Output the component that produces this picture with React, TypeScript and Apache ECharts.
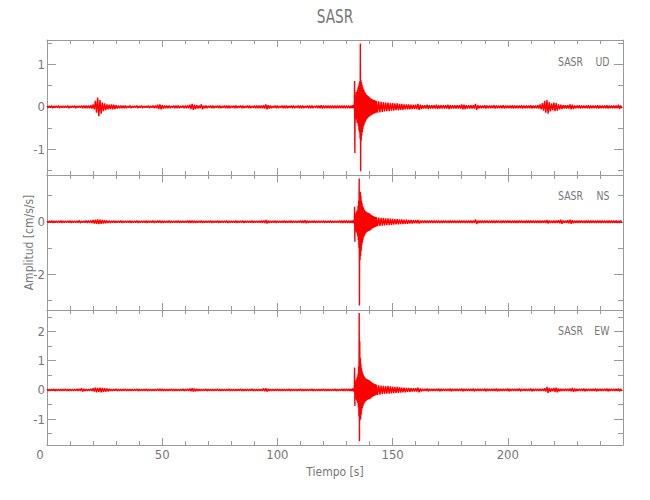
import React, { useEffect, useRef } from 'react';
import * as echarts from 'echarts';

// ---- data (amplitudes in units of 0.01 cm/s/s) ----
const stationName = 'SASR';
const componentNames = ['UD', 'NS', 'EW'];
const xTickLabels = [0, 50, 100, 150, 200];

// per-second envelope, seconds 0..131
const udPre = [2,2,3,2,2,3,2,2,2,3,2,2,3,2,2, 3,3,3,3, 4,6,14,22,16,10,8,6,5,6,5,4,3,3,3,3, 2,3,2,2,3,2,3,2,2,3,2,3,3, 5,6,4, 3,3,3,2,3,3,3,2,3,3,3, 5,7,5,4,3,6,3, 3,2,3,3,2,3,3,2,3,3,3,2,3,3,2,3,3,2,3,3,2,3,3,3,3, 4,6,4, 3,2,3,3,2,3,3,3,2,3,3,2,3,3,3,2,3,3,3,2,3, 3,4, 3,3,3,3,3,3,3,3,3,3,3,3];
const nsPre = [3,3,4,3,3,3,4,3,3,3,4,3,3,3, 5,3,3,4,4, 5,7,8,9,8,7,6,5,4, 3,4,3,3,4,3,3,3,4,3,3,4,3,3,3,4,3,3,4,3, 4,5,4, 3,3,4,3,3,3,4,3,3,3,4, 4,5,4, 3,3,4,3,3,3,4,3,3,4,3,3,3,4,3,3,3,4,3,3,4,3,3,3,4,3,3,3,4, 5,7,4, 3,3,4,3,3,3,4,3,3,4,3,3,3,4, 4,6,4, 3,3,4,3,3,3,4,3,3,4,3,3,3,4,4,4,4,4];
const ewPre = [3,3,3,4,3,3,3,3,4,3,3,3,3,4, 4,6,4, 3,3,4, 6,8,7,8,7,6,5,4, 3,3,4,3,3,3,4,3,3,3,3,4,3,3,3,4,3,3,3,3, 4,4,4, 3,3,3,4,3,3,3,3,4,3, 4,5,6,5,4, 3,3,3,4,3,3,3,3,4,3,3,3,3,4,3,3,3,3,4,3,3,3,3,4,3,3,3,3, 5,6,4, 3,3,3,4,3,3,3,3,4,3,3,3,3,4,3,3,3,3,4,3,3,3,3,4,3,3,3,3,4,3,3,4,4,4,4];

// main event, 0.25 s bins from 132.0 s
const eventStart = 132;
const eventStep = 0.25;
const udEvHi = [3,3,3,4,4,5,61,25,28,35,30,40,45,50,55,60,150,63,58,52,47,43,40,36,34,32,30,28,27,26,25,23,22,21,20,19,18,18,17,16,16,15,15,14];
const udEvLo = [-3,-3,-3,-3,-4,-4,-109,-22,-30,-28,-38,-35,-45,-55,-60,-75,-152,-80,-68,-60,-52,-46,-42,-38,-35,-32,-30,-28,-26,-25,-24,-22,-22,-20,-20,-19,-18,-17,-16,-16,-15,-15,-14,-14];
const nsEvHi = [4,4,4,5,5,6,57,25,30,35,40,45,60,80,165,100,114,100,80,70,60,55,50,45,42,40,38,36,35,34,33,32,31,29,27,26,24,23,22,21,20,19,18,18];
const nsEvLo = [-4,-4,-4,-4,-5,-6,-76,-30,-35,-40,-45,-55,-70,-100,-319,-146,-130,-110,-90,-80,-70,-60,-55,-50,-46,-43,-40,-38,-37,-36,-35,-34,-33,-31,-29,-27,-26,-24,-23,-22,-21,-20,-19,-18];
const ewEvHi = [4,4,4,5,5,6,77,30,30,35,40,45,55,80,264,167,110,90,75,65,58,52,48,45,42,40,38,37,36,35,34,33,32,30,28,27,25,24,23,22,21,20,19,18];
const ewEvLo = [-4,-4,-4,-4,-5,-6,-55,-25,-30,-35,-40,-45,-60,-90,-176,-103,-100,-85,-70,-62,-55,-50,-46,-43,-40,-38,-36,-35,-34,-33,-32,-32,-31,-29,-27,-26,-24,-23,-22,-21,-20,-19,-18,-17];

// per-second envelope, seconds 143..249
const postStart = 143;
const udPost = [14,13,12,11,10,10,9,9,8,8,7,7,6,6,6,5,5,5,7,5, 4,4,5,4,4,4,5,4,4,4,4,5,4,4,4,4,4, 6,5,4,4,4,4,7,4, 3,3,4,3,3,3,4,3,3,3,4,3,3,3,4,3,3,3,4,3,3,3,4,3,3, 4,6,9,14,16,11,8,10,9,6,5,4,4,4,6,5, 3,3,4,3,3,3,4,3,3,3,4,3,3,3,4,3,3,3,3,5,3];
const nsPost = [17,16,15,14,13,13,12,11,10,10,9,9,8,8,7,7,6,6,7,5, 5,5,5,5,5,5,5,5, 4,4,5,4,4,4,5,4,4,4,5,4,4,4,4, 9,4, 4,4,4,5,4,4,4,4,5,4,4,4,4,5,4,4,4,4,5,4,4,4,4,5,4,4,4,4, 5,7,5,4,4,4,6,8,5,4,6,8,6, 4,4,4,5,4,4,4,4,5,4,4,4,4,5,4,4,4,4,5,4,4];
const ewPost = [17,16,15,14,13,13,12,11,10,10,9,8,8,7,7,6,6,6,8,5, 4,4,5,4,4,4,4,5,4,4,4,4,5,4,4,4,4,5,4,4,4,4,5,4,4,4,4,5,4,4,4,4,5,4,4,4,4,5,4,4,4,4,5,4,4,4,4,5,4,4,4,4,4, 6,10,7,5,7,8,5,4,4,4,4,5,7, 5,4,4,4,5,4,4,4,4,5,4,4,4,4,5,4,4,4,4,5,4];

// axis extents and ticks per panel
const yMins = [-1.61, -3.36, -1.89];
const yMaxs = [1.58, 1.78, 2.74];
const yMajorTicks = [[-1, 0, 1], [-2, 0], [-1, 0, 1, 2]];
const yMinorTicks = [[-1.5, -0.5, 0.5, 1.5], [-3, -1, 1], [-1.5, -0.5, 0.5, 1.5, 2.5]];
const xMin = 0;
const xMax = 250;

const traces = [
  { pre: udPre, hi: udEvHi, lo: udEvLo, post: udPost },
  { pre: nsPre, hi: nsEvHi, lo: nsEvLo, post: nsPost },
  { pre: ewPre, hi: ewEvHi, lo: ewEvLo, post: ewPost },
];

const SCALE = 0.01;
function buildTrace(tr: { pre: number[]; hi: number[]; lo: number[]; post: number[] }) {
  const pts: number[][] = [];
  tr.pre.forEach((a, i) => {
    pts.push([i, a * SCALE]);
    pts.push([i + 0.5, -a * SCALE]);
  });
  tr.hi.forEach((h, j) => {
    const t = eventStart + j * eventStep;
    pts.push([t, h * SCALE]);
    pts.push([t + eventStep / 2, tr.lo[j] * SCALE]);
  });
  tr.post.forEach((a, k) => {
    const t = postStart + k;
    pts.push([t, a * SCALE]);
    pts.push([t + 0.5, -a * SCALE]);
  });
  return pts;
}

const FONT = "'Liberation Sans Narrow', 'DejaVu Sans Condensed', 'Liberation Sans', sans-serif";
const TEXT = '#777777';
const LINE = '#9a9a9a';

function buildOption() {
  const grids: any[] = [];
  const xAxes: any[] = [];
  const yAxes: any[] = [];
  const series: any[] = [];
  for (let i = 0; i < 3; i++) {
    grids.push({ left: 47, width: 576, top: 40 + 135 * i, height: 135 });
    const xBase = {
      type: 'value', gridIndex: i, min: xMin, max: xMax, interval: 50,
      axisLine: { show: true, onZero: false, lineStyle: { color: LINE, width: 1 } },
      axisTick: { show: true, inside: true, length: 7, lineStyle: { color: LINE } },
      minorTick: { show: true, splitNumber: 5, length: 4, lineStyle: { color: LINE } },
      splitLine: { show: false },
      minorSplitLine: { show: false },
    };
    xAxes.push({
      ...xBase,
      position: 'bottom',
      axisLabel: i === 2
        ? {
            show: true, color: TEXT, fontSize: 13, fontFamily: FONT, margin: 3,
            customValues: xTickLabels,
            formatter: (v: number) => (v === 0 ? '{z|0}' : String(v)),
            rich: { z: { padding: [0, 14, 0, 0], fontSize: 13, fontFamily: FONT, color: TEXT } },
          }
        : { show: false },
      name: i === 2 ? 'Tiempo [s]' : '',
      nameLocation: 'middle',
      nameGap: 21,
      nameMoveOverlap: false,
      nameTextStyle: { color: TEXT, fontSize: 12, fontFamily: FONT },
    });
    xAxes.push({ ...xBase, position: 'top', axisLabel: { show: false } });

    const yBase = {
      type: 'value', gridIndex: i, min: yMins[i], max: yMaxs[i],
      splitLine: { show: false },
    };
    yAxes.push({
      ...yBase, position: 'left',
      axisLine: { show: true, onZero: false, lineStyle: { color: LINE } },
      axisTick: { show: true, inside: true, length: 9, customValues: yMajorTicks[i], lineStyle: { color: LINE } },
      axisLabel: { show: true, customValues: yMajorTicks[i], color: TEXT, fontSize: 13, fontFamily: FONT, margin: 2 },
      name: i === 1 ? 'Amplitud [cm/s/s]' : '',
      nameLocation: 'middle',
      nameGap: 12,
      nameMoveOverlap: false,
      nameRotate: 90,
      nameTextStyle: { color: TEXT, fontSize: 12, fontFamily: FONT },
    });
    yAxes.push({
      ...yBase, position: 'left',
      axisLine: { show: false, onZero: false },
      axisTick: { show: true, inside: true, length: 5, customValues: yMinorTicks[i], lineStyle: { color: LINE } },
      axisLabel: { show: false },
    });
    yAxes.push({
      ...yBase, position: 'right',
      axisLine: { show: true, onZero: false, lineStyle: { color: LINE } },
      axisTick: { show: true, inside: true, length: 9, customValues: yMajorTicks[i], lineStyle: { color: LINE } },
      axisLabel: { show: false },
    });
    yAxes.push({
      ...yBase, position: 'right',
      axisLine: { show: false, onZero: false },
      axisTick: { show: true, inside: true, length: 5, customValues: yMinorTicks[i], lineStyle: { color: LINE } },
      axisLabel: { show: false },
    });

    series.push({
      type: 'line',
      name: componentNames[i],
      xAxisIndex: 2 * i,
      yAxisIndex: 4 * i,
      data: buildTrace(traces[i]),
      symbol: 'none',
      showSymbol: false,
      silent: true,
      clip: true,
      lineStyle: { color: '#ff0000', width: 1.4 },
      z: 1,
    });
  }

  const labelY = [61.5, 196, 331];
  const graphic: any[] = [
    {
      type: 'text', x: 335, y: 16, scaleX: 0.8,
      style: { text: stationName, align: 'center', verticalAlign: 'middle', textAlign: 'center', textVerticalAlign: 'middle', fill: TEXT, fontSize: 19, fontFamily: FONT },
    },
  ];
  labelY.forEach((y, i) => {
    graphic.push({
      type: 'text', x: 583, y, scaleX: 0.8,
      style: { text: stationName, align: 'right', verticalAlign: 'middle', textAlign: 'right', textVerticalAlign: 'middle', fill: TEXT, fontSize: 13, fontFamily: FONT },
    });
    graphic.push({
      type: 'text', x: 609.5, y, scaleX: 0.8,
      style: { text: componentNames[i], align: 'right', verticalAlign: 'middle', textAlign: 'right', textVerticalAlign: 'middle', fill: TEXT, fontSize: 13, fontFamily: FONT },
    });
  });

  return {
    animation: false,
    backgroundColor: '#ffffff',
    grid: grids,
    xAxis: xAxes,
    yAxis: yAxes,
    series,
    graphic,
  };
}

export default function App() {
  const ref = useRef<HTMLDivElement>(null);
  useEffect(() => {
    const chart = echarts.init(ref.current!, null, { renderer: 'svg' });
    chart.setOption(buildOption() as any);
    return () => chart.dispose();
  }, []);
  return <div ref={ref} style={{ position: 'fixed', left: 0, top: 0, width: 650, height: 500 }} />;
}
